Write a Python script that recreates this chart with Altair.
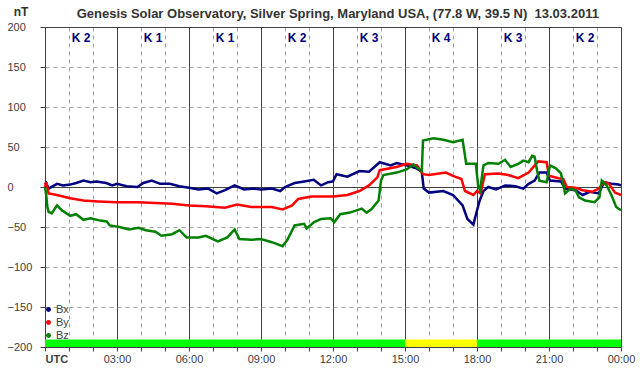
import altair as alt
import pandas as pd

# ---------------- data ----------------
bx_h = [0.0, 0.05, 0.15, 0.5, 0.75, 1.05, 1.3, 1.6, 1.9, 2.15, 2.55, 2.8, 3.0, 3.4, 3.85,
        4.1, 4.45, 4.8, 5.2, 5.6, 6.0, 6.4, 6.8, 7.15, 7.5, 7.9, 8.3, 8.7, 9.0, 9.45,
        9.8, 10.0, 10.4, 10.8, 11.2, 11.5, 11.8, 12.0, 12.15, 12.6, 13.1, 13.5, 13.95, 14.4, 14.65,
        15.07, 15.5, 15.7, 15.78, 16.0, 16.6, 17.0, 17.4, 17.6, 17.85, 17.95, 18.1, 18.27, 18.47, 18.8,
        19.17, 19.6, 19.93, 20.15, 20.4, 20.6, 20.9, 21.04, 21.5, 21.67, 22.1, 22.4, 22.7, 23.07, 23.3,
        23.6, 23.9, 24.0]
bx_v = [3, 5, -2, 4, 2, 3, 5, 8, 6, 7, 5, 2, 4, 1, 0,
        5, 8, 4, 4, 1, -1, -3, -2, -8, -4, 2, -3, -2, -3, -2,
        -5, 0, 5, 7, 9, 2, 6, 7, 16, 13, 20, 19, 31, 27, 30,
        27, 23, 19, -2, -7, -5, -10, -23, -40, -47, -35, -18, -5, 0, -3,
        2, 1, -2, 4, 8, 18, 18, 8, 7, -2, -4, -10, -6, -8, 6,
        4, 3, 2]

by_h = [0.0, 0.05, 0.15, 0.5, 1.05, 1.6, 2.2, 3.0, 3.85, 4.6, 5.3, 6.0, 6.7, 7.5, 8.0,
        8.6, 9.45, 9.9, 10.3, 10.55, 11.1, 11.6, 12.0, 12.6, 13.1, 13.5, 13.85, 13.95, 14.65, 15.07,
        15.5, 15.75, 16.0, 16.7, 17.0, 17.35, 17.5, 17.85, 18.0, 18.15, 18.33, 18.9, 19.3, 19.72, 20.15,
        20.55, 20.9, 21.0, 21.4, 21.6, 21.74, 22.1, 22.4, 22.8, 23.07, 23.3, 23.5, 23.75, 24.0]
by_v = [0, 6, -8, -10, -14, -17, -18, -19, -19, -20, -21, -23, -24, -26, -22,
        -25, -25, -28, -23, -15, -12, -12, -12, -10, -5, 2, 12, 21, 25, 29,
        27, 16, 15, 18, 14, 10, -5, -10, -5, -8, 16, 17, 15, 11, 18,
        32, 31, 14, 11, 10, 0, -1, -4, -6, -2, 6, 4, -7, -10]

bz_h = [0.0, 0.05, 0.1, 0.15, 0.28, 0.5, 0.7, 1.05, 1.3, 1.6, 1.9, 2.3, 2.57, 2.7, 3.1,
        3.5, 3.9, 4.2, 4.6, 4.85, 5.3, 5.6, 5.9, 6.4, 6.7, 7.2, 7.6, 7.9, 8.1, 8.6,
        9.0, 9.45, 9.9, 10.1, 10.4, 10.8, 10.9, 11.2, 11.5, 11.9, 12.05, 12.3, 12.7, 13.2, 13.4,
        13.6, 13.9, 14.0, 14.1, 14.65, 15.07, 15.35, 15.55, 15.7, 15.75, 16.2, 16.6, 17.0, 17.4, 17.55,
        17.95, 18.05, 18.13, 18.27, 18.47, 18.9, 19.17, 19.4, 19.72, 19.93, 20.15, 20.3, 20.4, 20.5, 20.6,
        20.9, 21.04, 21.3, 21.5, 21.67, 21.9, 22.1, 22.25, 22.5, 22.9, 23.1, 23.2, 23.4, 23.6, 23.8,
        24.0]
bz_v = [0, -10, -25, -31, -33, -23, -29, -36, -34, -41, -39, -42, -43, -48, -50,
        -53, -51, -54, -56, -61, -59, -54, -63, -63, -61, -68, -63, -53, -65, -66,
        -65, -69, -74, -66, -48, -46, -52, -44, -40, -39, -44, -34, -32, -27, -32,
        -28, -17, 8, 15, 18, 22, 28, 23, 20, 58, 61, 59, 56, 59, 29,
        29, 1, -4, 27, 30, 29, 34, 25, 29, 33, 31, 39, 38, 21, 8,
        6, 27, 23, 17, -8, -2, -4, -13, -17, -19, -13, 8, 2, -10, -25,
        -29]

k_start = [0, 3, 6, 9, 12, 15, 18, 21]
k_end = [3, 6, 9, 12, 15, 18, 21, 24]
k_index = [2, 1, 1, 2, 3, 4, 3, 2]

components = ["Bx", "By", "Bz"]
comp_colors = ["#000080", "#ff0000", "#008000"]

title_text = "Genesis Solar Observatory, Silver Spring, Maryland USA, (77.8 W, 39.5 N)\u00a0 13.03.2011"
unit_text = "nT"

# ---------------- tables ----------------
rows = []
for name, hs, vs in zip(components, [bx_h, by_h, bz_h], [bx_v, by_v, bz_v]):
    for h, v in zip(hs, vs):
        rows.append({"hour": h, "nT": v, "comp": name})
lines_df = pd.DataFrame(rows)

k_df = pd.DataFrame({
    "start": k_start,
    "end": k_end,
    "k": k_index,
    "mid": [(a + b) / 2 for a, b in zip(k_start, k_end)],
    "label": ["K " + str(k) for k in k_index],
})

FONT = "Liberation Sans, Arial, sans-serif"
DARK = "#404040"

x_scale = alt.Scale(domain=[0, 24], nice=False, zero=False)
y_scale = alt.Scale(domain=[-200, 200], nice=False)

x_axis = alt.Axis(
    values=list(range(25)),
    title=None,
    grid=True,
    gridColor={"condition": {"test": "datum.value % 3 == 0", "value": DARK}, "value": "#a0a0a0"},
    gridDash={"condition": {"test": "datum.value % 3 == 0", "value": []}, "value": [4, 4]},
    gridWidth=1,
    domainColor=DARK,
    tickColor=DARK,
    tickSize=4,
    labelExpr="datum.value % 3 != 0 ? '' : (datum.value == 0 ? 'UTC' : (datum.value == 24 ? '00:00' : ((datum.value < 10 ? '0' : '') + datum.value + ':00')))",
    labelFont=FONT,
    labelFontSize=11,
    labelColor=DARK,
    labelFontWeight={"condition": {"test": "datum.value == 0", "value": "bold"}, "value": "normal"},
    labelAlign={"condition": {"test": "datum.value == 0", "value": "left"}, "value": "center"},
    labelPadding=2,
    labelOverlap=False,
    labelFlush=False,
)

y_axis = alt.Axis(
    values=list(range(-200, 201, 50)),
    title=None,
    grid=True,
    gridColor={"condition": {"test": "datum.value == 0 || abs(datum.value) == 200", "value": DARK}, "value": "#a0a0a0"},
    gridDash={"condition": {"test": "datum.value == 0 || abs(datum.value) == 200", "value": []}, "value": [4, 4]},
    domainColor=DARK,
    tickColor=DARK,
    tickSize=5,
    labelFont=FONT,
    labelFontSize=11,
    labelColor=DARK,
    labelAlign="left",
    labelPadding=33,
    labelOverlap=False,
)

kbar = alt.Chart(k_df).mark_rect().encode(
    x=alt.X("start:Q", scale=x_scale, axis=x_axis),
    x2="end:Q",
    y=alt.Y(datum=-200, scale=y_scale, axis=y_axis),
    y2=alt.Y2(datum=-190.5),
    color=alt.condition("datum.k >= 4", alt.value("#ffff00"), alt.value("#00ff00")),
)

lines = alt.Chart(lines_df).mark_line(strokeWidth=2.5, strokeJoin="miter").encode(
    x=alt.X("hour:Q", scale=x_scale, axis=x_axis),
    y=alt.Y("nT:Q", scale=y_scale, axis=y_axis),
    color=alt.Color(
        "comp:N",
        scale=alt.Scale(domain=components, range=comp_colors),
        legend=alt.Legend(
            title=None,
            orient="none",
            legendX=-2,
            legendY=277,
            padding=0,
            symbolType="circle",
            symbolSize=6,
            symbolStrokeWidth=2.5,
            labelFont=FONT,
            labelFontSize=11,
            labelColor=DARK,
            labelOffset=2,
            rowPadding=0,
        ),
    ),
    order=alt.Order("hour:Q"),
)

klabels = alt.Chart(k_df).mark_text(
    font=FONT, fontSize=12, fontWeight="bold", color="#000080", baseline="middle", align="center"
).encode(
    x=alt.X("mid:Q", scale=x_scale, axis=x_axis),
    y=alt.Y(datum=186, scale=y_scale, axis=y_axis),
    text="label:N",
)

title_mark = alt.Chart(pd.DataFrame({"t": [title_text]})).mark_text(
    font=FONT, fontSize=13, fontWeight="bold", color="#333333", baseline="alphabetic", align="center"
).encode(
    x=alt.X(datum=12.2, scale=x_scale, axis=x_axis),
    y=alt.Y(datum=211, scale=y_scale, axis=y_axis),
    text="t:N",
)

unit_mark = alt.Chart(pd.DataFrame({"t": [unit_text]})).mark_text(
    font=FONT, fontSize=12, fontWeight="bold", color="#333333", baseline="middle", align="center"
).encode(
    x=alt.X(datum=-1.0, scale=x_scale, axis=x_axis),
    y=alt.Y(datum=219, scale=y_scale, axis=y_axis),
    text="t:N",
)

chart = alt.layer(kbar, lines, klabels, title_mark, unit_mark).properties(
    width=576,
    height=320,
    autosize=alt.AutoSizeParams(type="none"),
    padding={"left": 45, "top": 27, "right": 21, "bottom": 29},
).configure_view(
    stroke=DARK,
    strokeWidth=1,
).configure_axis(
    labelOverlap=False,
).configure(
    background="white",
)

chart.save("out.html", embed_options={"renderer": "svg", "actions": False})
